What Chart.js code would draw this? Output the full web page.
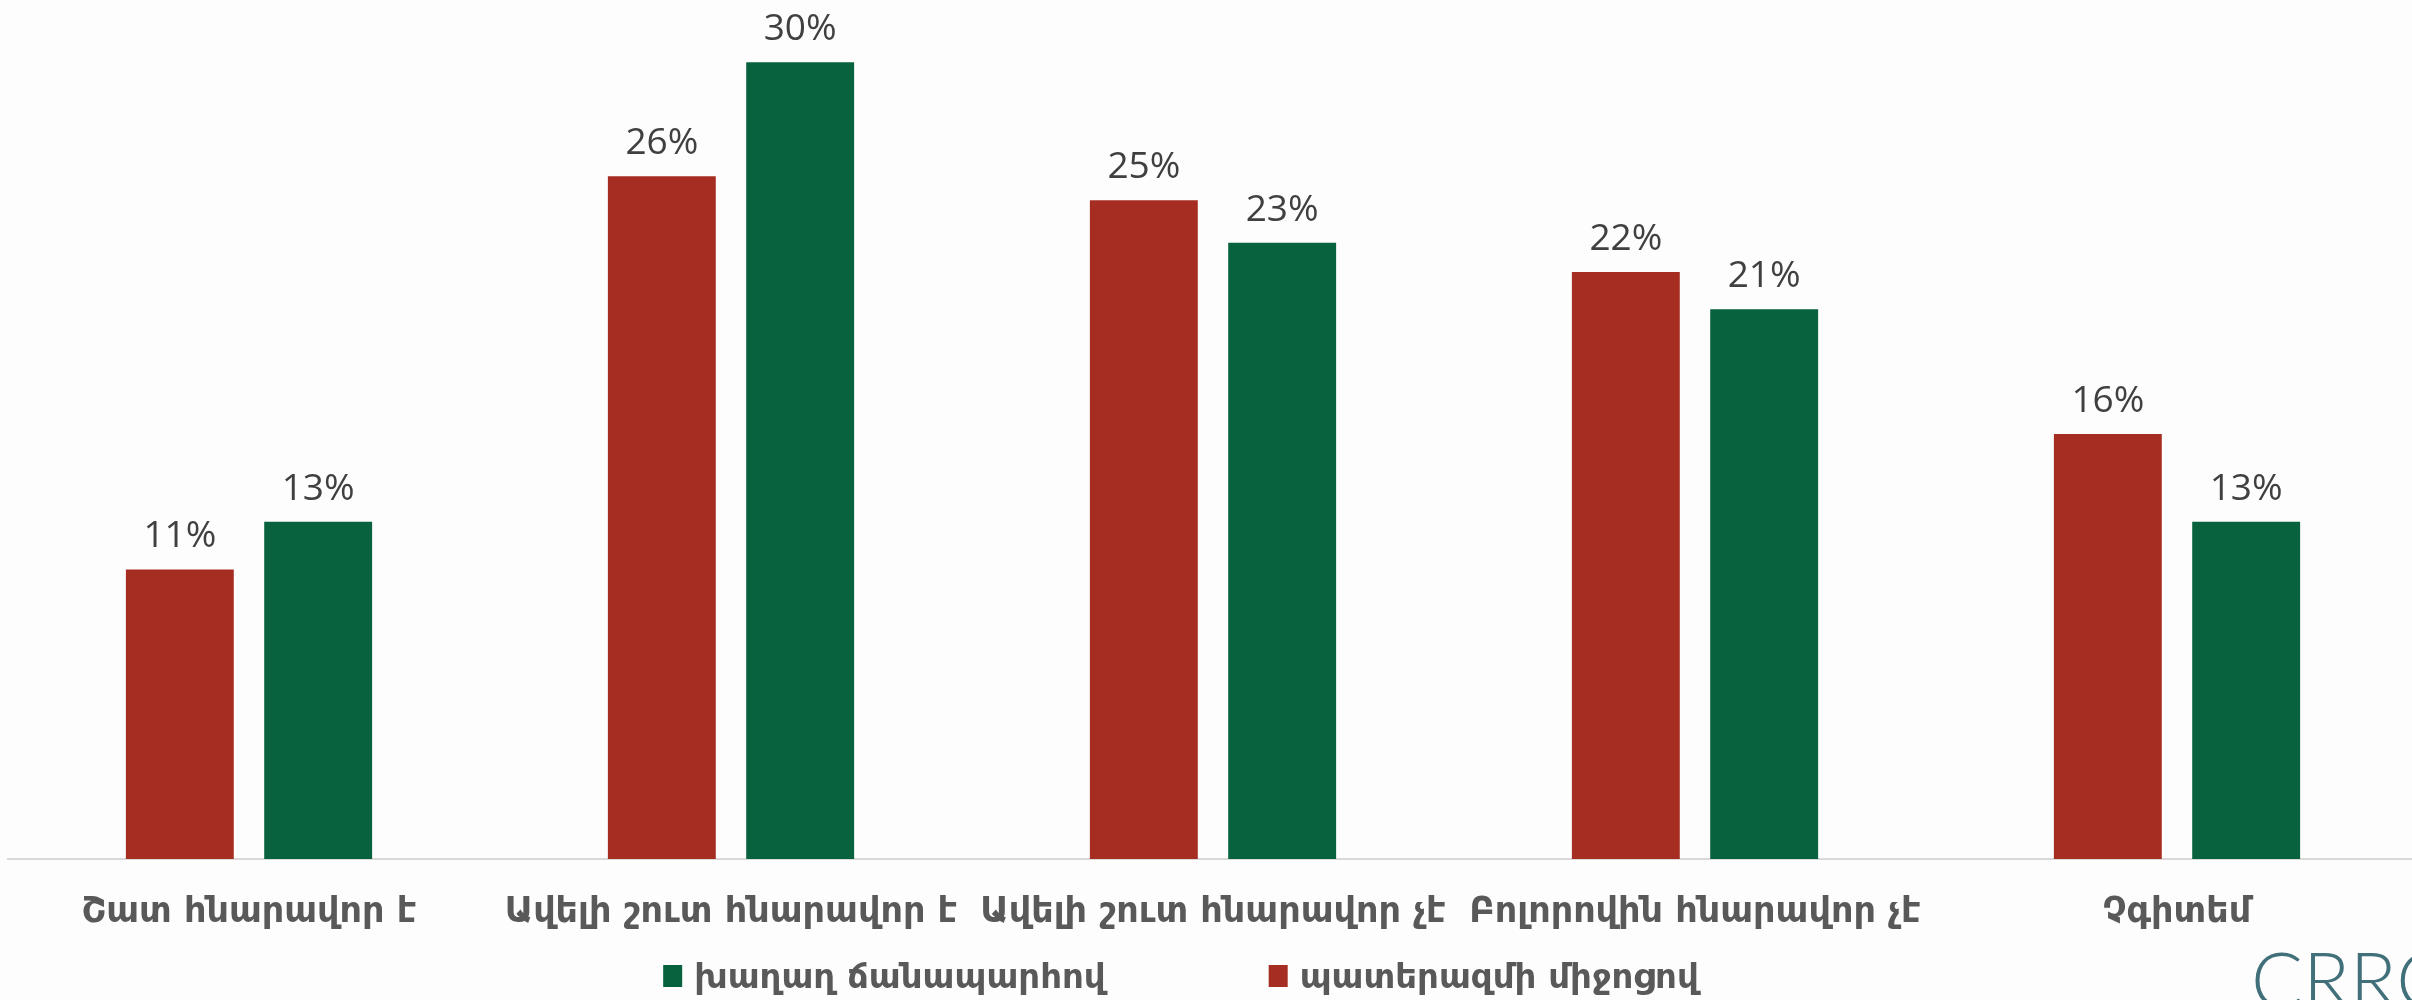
<!DOCTYPE html>
<html>
<head>
<meta charset="utf-8">
<script src="https://cdn.jsdelivr.net/npm/chart.js@4.4.1/dist/chart.umd.min.js"></script>
<style>
  html, body { margin: 0; padding: 0; background: #fdfdfd; overflow: hidden; }
  #wrap { position: relative; width: 2412px; height: 1000px; overflow: hidden; }
  #c { position: absolute; left: 0; top: 0; }
</style>
</head>
<body>
<div id="wrap"><canvas id="c" width="2418" height="1000"></canvas></div>
<script>
// ---- data ----
const categories = [
  "Շատ հնարավոր է",
  "Ավելի շուտ հնարավոր է",
  "Ավելի շուտ հնարավոր չէ",
  "Բոլորովին հնարավոր չէ",
  "Չգիտեմ"
];
const seriesNames = ["պատերազմի միջոցով", "խաղաղ ճանապարհով"];
const warValues = [10.9, 25.7, 24.8, 22.1, 16.0];
const peaceValues = [12.7, 30.0, 23.2, 20.7, 12.7];
const legendOrder = [1, 0];
const logoText = "CRRC";

// ---- styles ----
const RED = "#A52D21";
const GREEN = "#07623D";
const TEXT_GREY = "#595959";
const LABEL_GREY = "#404040";
const TICK_FONT = "'DejaVu Sans', sans-serif";

const dataLabelPlugin = {
  id: "dataLabels",
  afterDatasetsDraw(chart) {
    const ctx = chart.ctx;
    ctx.save();
    ctx.font = "37px 'Open Sans', sans-serif";
    ctx.fillStyle = LABEL_GREY;
    ctx.textAlign = "center";
    ctx.textBaseline = "alphabetic";
    chart.data.datasets.forEach((ds, di) => {
      const meta = chart.getDatasetMeta(di);
      meta.data.forEach((el, i) => {
        ctx.fillText(Math.round(ds.data[i]) + "%", el.x, el.y - 22);
      });
    });
    ctx.restore();
  }
};

const legendPlugin = {
  id: "customLegend",
  afterDraw(chart) {
    const ctx = chart.ctx;
    const ds = chart.data.datasets;
    ctx.save();
    ctx.font = "bold 34px " + TICK_FONT;
    const boxW = 19, boxH = 22, boxGap = 12, itemGap = 163;
    const items = legendOrder.map(k => ({
      text: ds[k].label, color: ds[k].backgroundColor,
      w: boxW + boxGap + ctx.measureText(ds[k].label).width
    }));
    const total = items.reduce((s, it) => s + it.w, 0) + itemGap * (items.length - 1);
    let x = 1181 - total / 2;
    const baseY = chart.chartArea.bottom + 129;
    items.forEach(it => {
      ctx.fillStyle = it.color;
      ctx.fillRect(x, baseY - 23, boxW, boxH);
      ctx.fillStyle = TEXT_GREY;
      ctx.textAlign = "left";
      ctx.textBaseline = "alphabetic";
      ctx.fillText(it.text, x + boxW + boxGap, baseY);
      x += it.w + itemGap;
    });
    // logo
    ctx.font = "300 77px Lato, 'Open Sans', sans-serif";
    ctx.fillStyle = "#41707A";
    ctx.fillText(logoText, 2251, 1008);
    ctx.restore();
  }
};

new Chart(document.getElementById("c"), {
  type: "bar",
  data: {
    labels: categories,
    datasets: [
      { label: seriesNames[0], data: warValues, backgroundColor: RED, borderWidth: 0,
        categoryPercentage: 0.574, barPercentage: 0.78 },
      { label: seriesNames[1], data: peaceValues, backgroundColor: GREEN, borderWidth: 0,
        categoryPercentage: 0.574, barPercentage: 0.78 }
    ]
  },
  options: {
    responsive: false,
    animation: false,
    devicePixelRatio: 1,
    layout: { padding: { left: 8, right: 0, top: 9, bottom: 0 } },
    plugins: {
      legend: { display: false },
      tooltip: { enabled: false }
    },
    scales: {
      x: {
        grid: { display: false, drawTicks: false },
        border: { display: true, color: "#d9d9d9", width: 2 },
        ticks: {
          color: TEXT_GREY,
          font: { family: TICK_FONT, size: 35, weight: "bold" },
          padding: 33,
          maxRotation: 0,
          autoSkip: false
        },
        afterFit(scale) { scale.height = 141; }
      },
      y: { display: false, min: 0, max: 32 }
    }
  },
  plugins: [dataLabelPlugin, legendPlugin]
});
</script>
</body>
</html>
